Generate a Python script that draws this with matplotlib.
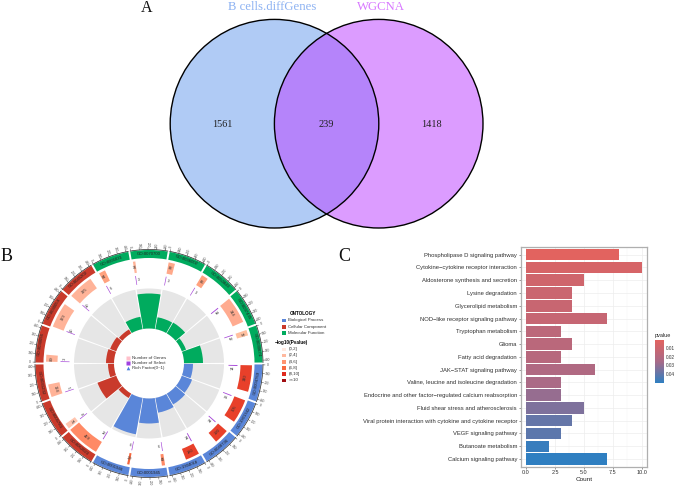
import numpy as np
import matplotlib
matplotlib.use("Agg")
import matplotlib.pyplot as plt
from matplotlib.patches import Circle, Rectangle
from matplotlib.colors import LinearSegmentedColormap, Normalize
from matplotlib.cm import ScalarMappable

W, H = 676, 486
SERIF = "Liberation Serif"
SANS = "Liberation Sans"

# ---------- Panel A data
venn_names = ["B cells.diffGenes", "WGCNA"]
venn_counts = [1561, 239, 1418]

# ---------- Panel B data
go_ids = ["GO:0004769", "GO:1901342", "GO:0048736", "GO:1904018", "GO:0001945", "GO:0001946",
          "GO:0062023", "GO:0005783", "GO:0031232", "GO:0030056", "GO:0030054", "GO:0045202",
          "GO:0005031", "GO:0070700", "GO:0036002", "GO:0050840", "GO:0097435", "GO:0030674"]
go_ontology = ["BP"] * 6 + ["CC"] * 6 + ["MF"] * 6
go_genes = [340, 305, 190, 180, 41, 29,
            429, 71, 164, 89, 323, 325,
            84, 31, 82, 85, 344, 72]
go_select = [14, 13, 14, 14, 6, 6,
             12, 4, 5, 3, 10, 10,
             6, 3, 3, 3, 14, 12]
go_rich_radius = [44, 46, 47.5, 50, 60, 72,
                  40, 55, 41, 43, 41.5, 39.5,
                  47.5, 70, 47, 47.5, 39.5, 54]
go_gene_colors = ["#E8402A", "#E8402A", "#E8402A", "#E8402A", "#FF8A65", "#F4663C",
                  "#FF8A65", "#FFC5AF", "#FFB398", "#FFB398", "#FFB398", "#FFB398",
                  "#FFA27F", "#FFB398", "#FFA98A", "#FFA27F", "#FFAB90", "#FFC09F"]
ontology_colors = {"BP": "#5A86D9", "CC": "#C93A2B", "MF": "#00AB5E"}
ontology_names = ["Biological Process", "Cellular Component", "Molecular Function"]
p_bins = ["(0,2]", "(2,4]", "(4,6]", "(6,8]", "(8,10]", ">=10"]
p_bin_colors = ["#FFE9E0", "#FFB99F", "#FF9470", "#F8693F", "#E02A1E", "#A00D12"]
axis_ticks = [0, 100, 200, 300, 400]

# ---------- Panel C data
pathways = ["Phospholipase D signaling pathway", "Cytokine\u2212cytokine receptor interaction",
            "Aldosterone synthesis and secretion", "Lysine degradation", "Glycerolipid metabolism",
            "NOD\u2212like receptor signaling pathway", "Tryptophan metabolism", "Glioma",
            "Fatty acid degradation", "JAK\u2212STAT signaling pathway",
            "Valine, leucine and isoleucine degradation",
            "Endocrine and other factor\u2212regulated calcium reabsorption",
            "Fluid shear stress and atherosclerosis",
            "Viral protein interaction with cytokine and cytokine receptor",
            "VEGF signaling pathway", "Butanoate metabolism", "Calcium signaling pathway"]
counts = [8, 10, 5, 4, 4, 7, 3, 4, 3, 6, 3, 3, 5, 4, 3, 2, 7]
pvalues = [0.001, 0.006, 0.009, 0.011, 0.012, 0.013, 0.017, 0.018, 0.019, 0.022,
           0.024, 0.029, 0.034, 0.039, 0.041, 0.048, 0.050]


def axes_px(fig, left, top, right, bottom, **kw):
    return fig.add_axes([left / W, 1 - bottom / H, (right - left) / W, (bottom - top) / H], **kw)


fig = plt.figure(figsize=(W / 100, H / 100), dpi=100, facecolor="white")

# ---------- full-figure layer in pixel coordinates (Venn, letters, legend)
bg = fig.add_axes([0, 0, 1, 1])
bg.set_xlim(0, W)
bg.set_ylim(H, 0)
bg.axis("off")

left_c, right_c, cy, rad = 274.5, 378.7, 123.7, 104.3
c_left = Circle((left_c, cy), rad, fc="#B0CBF5", ec="none")
c_right = Circle((right_c, cy), rad, fc="#DC9CFF", ec="none")
bg.add_patch(c_left)
bg.add_patch(c_right)
overlap = Circle((left_c, cy), rad, fc="#B584FA", ec="none")
bg.add_patch(overlap)
overlap.set_clip_path(Circle((right_c, cy), rad, transform=bg.transData))
for x in (left_c, right_c):
    bg.add_patch(Circle((x, cy), rad, fc="none", ec="black", lw=1.0))
for x, v in zip((222.5, 326.7, 431), venn_counts):
    bg.text(x, 124, str(v), family=SERIF, fontsize=7.4, ha="center", va="center", color="#222222")
bg.text(272.5, 7.5, venn_names[0], family=SERIF, fontsize=9.2, color="#8DB2F2", ha="center", va="center")
bg.text(381, 7.5, venn_names[1], family=SERIF, fontsize=9.2, color="#D878FF", ha="center", va="center")
for s, x, y, fs in (("A", 147, 8, 11.5), ("B", 7, 256, 13), ("C", 344, 256, 13)):
    bg.text(x, y, s, family=SERIF, fontsize=fs, ha="center", va="center", color="#111111")

# Panel B legend
bg.text(303, 313.5, "ONTOLOGY", family=SANS, fontsize=3.3, weight="bold", ha="center", va="center")
for y, name, key in zip((320.3, 326.7, 333), ontology_names, ("BP", "CC", "MF")):
    bg.add_patch(Rectangle((282.2, y - 1.8), 3.6, 3.6, fc=ontology_colors[key], ec="none"))
    bg.text(288.5, y, name, family=SANS, fontsize=3.15, va="center", color="#333333")
bg.text(275, 342.7, "\u2212log10(Pvalue)", family=SANS, fontsize=3.3, weight="bold", va="center")
for y, name, col in zip((349.3, 355.3, 361.7, 367.7, 374, 380.3), p_bins, p_bin_colors):
    bg.add_patch(Rectangle((282.2, y - 1.8), 3.6, 3.6, fc=col, ec="none"))
    bg.text(288.5, y, name, family=SANS, fontsize=3.15, va="center", color="#333333")

# ---------- Panel B circular plot
cx, cyy, rmax = 149, 363.5, 124
pol = axes_px(fig, cx - rmax, cyy - rmax, cx + rmax, cyy + rmax, projection="polar")
pol.set_theta_zero_location("E")
pol.set_theta_direction(-1)
pol.set_ylim(0, rmax)
pol.axis("off")
pol.patch.set_alpha(0)

SEC = 20.0
DEG_PER_UNIT = 0.044


def upright(theta_deg):
    rot = -(theta_deg + 90)
    while rot <= -90:
        rot += 180
    while rot > 90:
        rot -= 180
    return rot


def ptext(theta_deg, r, s, fs, rot=None, **kw):
    pol.text(np.deg2rad(theta_deg), r, s, fontsize=fs, family=SANS, ha="center", va="center",
             rotation=upright(theta_deg) if rot is None else rot, rotation_mode="anchor", **kw)


for i, go in enumerate(go_ids):
    start = i * SEC
    col = ontology_colors[go_ontology[i]]
    # outer ontology ring
    pol.bar(np.deg2rad(start + 0.5), 8, width=np.deg2rad(SEC - 1), bottom=105.5, align="edge",
            color=col, ec="none")
    ptext(start + SEC / 2, 109.5, go, 3.1, color="#222222")
    # axis arc and ticks
    arc = np.deg2rad(np.linspace(start + 0.5, start + SEC - 0.5, 30))
    pol.plot(arc, np.full_like(arc, 114), color="#222222", lw=0.5)
    for t in axis_ticks:
        a = start + 0.7 + t * DEG_PER_UNIT
        pol.plot([np.deg2rad(a)] * 2, [114, 116], color="#444444", lw=0.35)
        rr = a if a % 360 < 90 or a % 360 > 270 else a + 180
        ptext(a, 118.8, str(t), 2.3, rot=-rr, color="#444444")
    # gene count bar
    w = go_genes[i] * DEG_PER_UNIT
    pol.bar(np.deg2rad(start + 1), 11.5, width=np.deg2rad(w), bottom=91.5, align="edge",
            color=go_gene_colors[i], ec="none")
    ptext(start + 1 + w / 2, 97, str(go_genes[i]), 3.0, color="#333333")
    # selected count bar
    pol.bar(np.deg2rad(start + 1), 9, width=np.deg2rad(max(go_select[i] * DEG_PER_UNIT, 0.45)), bottom=79.5,
            align="edge", color="#A648D8", ec="none")
    ptext(start + 3.2, 84, str(go_select[i]), 2.9, color="#444444")
    # rich factor ring
    pol.bar(np.deg2rad(start + 0.5), 75 - 35, width=np.deg2rad(SEC - 1), bottom=35, align="edge",
            color="#E6E6E6", ec="none")
    pol.bar(np.deg2rad(start + 0.5), go_rich_radius[i] - 35, width=np.deg2rad(SEC - 1), bottom=35, align="edge",
            color=col, ec="none")

# centre legend
bg.set_zorder(3)
for y, lab, col, mark in zip((358, 363, 368),
                             ("Number of Genes", "Number of Select", "Rich Factor(0~1)"),
                             ("#FFC0CB", "#A040E0", "#4A80E0"), ("s", "s", "^")):
    bg.plot([128], [y], marker=mark, ms=2.6, color=col, ls="none", mec="none")
    bg.text(132.3, y, lab, family=SANS, fontsize=3.2, va="center", color="#333333")

# ---------- Panel C bars
cmap = LinearSegmentedColormap.from_list("p", ["#E2635F", "#A86A88", "#2F7FC1"])
norm = Normalize(min(pvalues), max(pvalues))
ax = axes_px(fig, 520.7, 247, 647, 466.7)
ypos = np.arange(len(pathways))
ax.set_axisbelow(True)
ax.grid(True, color="#EDEDED", lw=0.5)
ax.set_xticks([1.25, 3.75, 6.25, 8.75], minor=True)
ax.grid(True, which="minor", axis="x", color="#F4F4F4", lw=0.3)
ax.barh(ypos, counts, height=0.9, color=cmap(norm(pvalues)))
ax.set_xlim(-0.46, 10.45)
ax.set_ylim(len(pathways) - 0.4, -0.6)
ax.set_yticks(ypos)
ax.set_yticklabels(pathways, family=SANS, fontsize=4.28, color="#303030")
ax.set_xticks([0, 2.5, 5, 7.5, 10])
ax.set_xticklabels(["0.0", "2.5", "5.0", "7.5", "10.0"], family=SANS, fontsize=4.0, color="#303030")
ax.tick_params(axis="both", which="major", length=1.6, width=0.4, color="#444444", pad=1)
ax.tick_params(axis="x", which="minor", length=0)
for sp in ax.spines.values():
    sp.set_color("#AFAFAF")
    sp.set_linewidth(0.9)
ax.set_xlabel("Count", family=SANS, fontsize=4.6, labelpad=1.5, color="#222222")

cax = axes_px(fig, 655, 340, 664, 383)
cb = fig.colorbar(ScalarMappable(norm=norm, cmap=cmap), cax=cax)
cb.ax.invert_yaxis()
cb.set_ticks([0.01, 0.02, 0.03, 0.04])
cb.set_ticklabels(["0.01", "0.02", "0.03", "0.04"], family=SANS, fontsize=3.4, color="#333333")
cb.ax.tick_params(length=0, pad=1.5)
cb.outline.set_visible(False)
bg.text(655, 335, "pvalue", family=SANS, fontsize=4.0, va="center", color="#222222")

fig.savefig("out.png", dpi=100)
